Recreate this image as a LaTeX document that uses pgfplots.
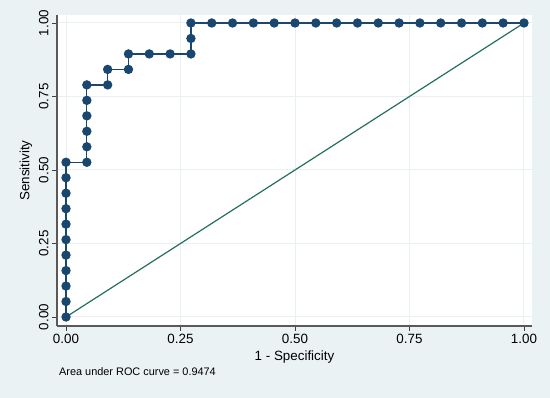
\documentclass[border=0pt]{standalone}
\usepackage{fontspec}
\setmainfont{Liberation Sans}
\usepackage{pgfplots}
\pgfplotsset{compat=1.18}
\definecolor{bgc}{RGB}{234,242,243}
\definecolor{gridc}{RGB}{232,240,242}
\definecolor{navyc}{RGB}{26,71,111}
\definecolor{diagc}{RGB}{37,110,98}
\begin{document}
\begin{tikzpicture}[x=1pt,y=1pt]
\fill[bgc] (0,0) rectangle (550,398);
\begin{axis}[
 at={(57pt,72pt)}, anchor=south west,
 scale only axis, width=475pt, height=311pt,
 xmin=-0.0197, xmax=1.0175, ymin=-0.0306, ymax=1.0272,
 axis x line*=bottom, axis y line*=left,
 axis background/.style={fill=white},
 grid=major, major grid style={gridc, line width=1pt},
 xtick={0,0.25,0.5,0.75,1}, ytick={0,0.25,0.5,0.75,1},
 xticklabels={0.00,0.25,0.50,0.75,1.00},
 yticklabels={0.00,0.25,0.50,0.75,1.00},
 tick align=outside, major tick length=5pt,
 tick style={black!75, line width=0.8pt},
 axis line style={black!65, line width=1.5pt, -},
 ticklabel style={font=\fontsize{13.4}{16}\selectfont},
 yticklabel style={rotate=90, anchor=south},
 label style={font=\fontsize{13.4}{16}\selectfont},
 xlabel={1 - Specificity}, ylabel={Sensitivity},
 /pgf/number format/assume math mode=true,
 clip=false,
]
\addplot[diagc, line width=1.2pt] coordinates {(0,0) (1,1)};
\addplot[navyc, line width=1.3pt, mark=*, mark size=4pt, mark options={fill=navyc, draw=navyc}] coordinates {
(0,0) (0,0.052632) (0,0.105263) (0,0.157895) (0,0.210526) (0,0.263158) (0,0.315789) (0,0.368421) (0,0.421053) (0,0.473684) (0,0.526316)
(0.045455,0.526316) (0.045455,0.578947) (0.045455,0.631579) (0.045455,0.684211) (0.045455,0.736842) (0.045455,0.789474)
(0.090909,0.789474) (0.090909,0.842105)
(0.136364,0.842105) (0.136364,0.894737)
(0.181818,0.894737) (0.227273,0.894737) (0.272727,0.894737) (0.272727,0.947368) (0.272727,1)
(0.318182,1) (0.363636,1) (0.409091,1) (0.454545,1) (0.5,1) (0.545455,1) (0.590909,1) (0.636364,1) (0.681818,1) (0.727273,1) (0.772727,1) (0.818182,1) (0.863636,1) (0.909091,1) (0.954545,1) (1,1)
};
\end{axis}
\node[anchor=base west, font=\fontsize{10.9}{13}\selectfont, inner sep=0] at (59,22) {Area under ROC curve = 0.9474};
\end{tikzpicture}
\end{document}
